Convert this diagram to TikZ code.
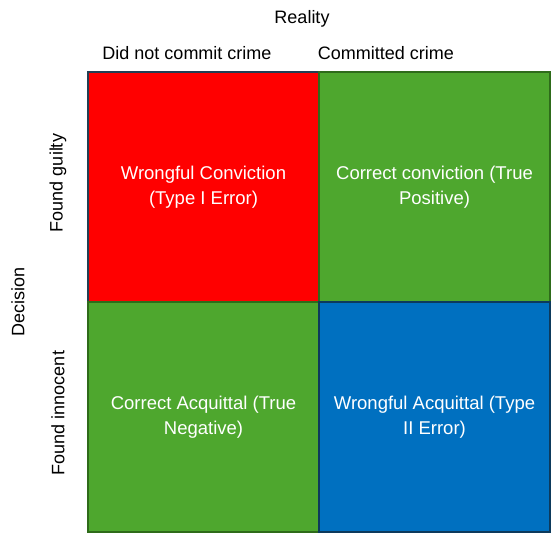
\documentclass[tikz,border=0pt]{standalone}
\usepackage{fontspec}
\setmainfont{Liberation Sans}
\usepackage{tikz}
\definecolor{cellred}{HTML}{FF0000}
\definecolor{cellgreen}{HTML}{4EA72E}
\definecolor{cellblue}{HTML}{0070C0}
\definecolor{edgered}{HTML}{233F54}
\definecolor{edgegreen}{HTML}{2E6B1A}
\definecolor{edgeblue}{HTML}{0D3A5C}
\tikzset{
  cell/.style={rectangle,minimum width=231pt,minimum height=230pt,line width=1.5pt,
    text=white,align=center,font=\fontsize{18.5}{25}\selectfont,inner sep=0pt},
  heading/.style={font=\fontsize{18}{22}\selectfont,inner sep=0pt}
}

\begin{document}
\begin{tikzpicture}[x=1pt,y=-1pt]
            \draw[draw=none,use as bounding box] (0,0) rectangle (552,534);
            \node[heading] (reality) at (302,19){Reality};
            \node[heading] (innocentcol) at (187,53){Did not commit crime};
            \node[heading] (guiltycol) at (386,53){Committed crime};
            \node[heading,rotate=90] (decision) at (18,302){Decision};
            \node[heading,rotate=90] (guiltyrow) at (58,183){Found guilty};
            \node[heading,rotate=90] (innocentrow) at (58,413){Found innocent};
            \node[cell,fill=cellred,draw=edgered] (typeone) at (203.5,187){Wrongful Conviction\\(Type I Error)};
            \node[cell,fill=cellgreen,draw=edgegreen] (truepos) at (434.5,187){Correct conviction (True\\Positive)};
            \node[cell,fill=cellgreen,draw=edgegreen] (trueneg) at (203.5,417){Correct Acquittal (True\\Negative)};
            \node[cell,fill=cellblue,draw=edgeblue] (typetwo) at (434.5,417){Wrongful Acquittal (Type\\II Error)};
        \end{tikzpicture}
\end{document}
